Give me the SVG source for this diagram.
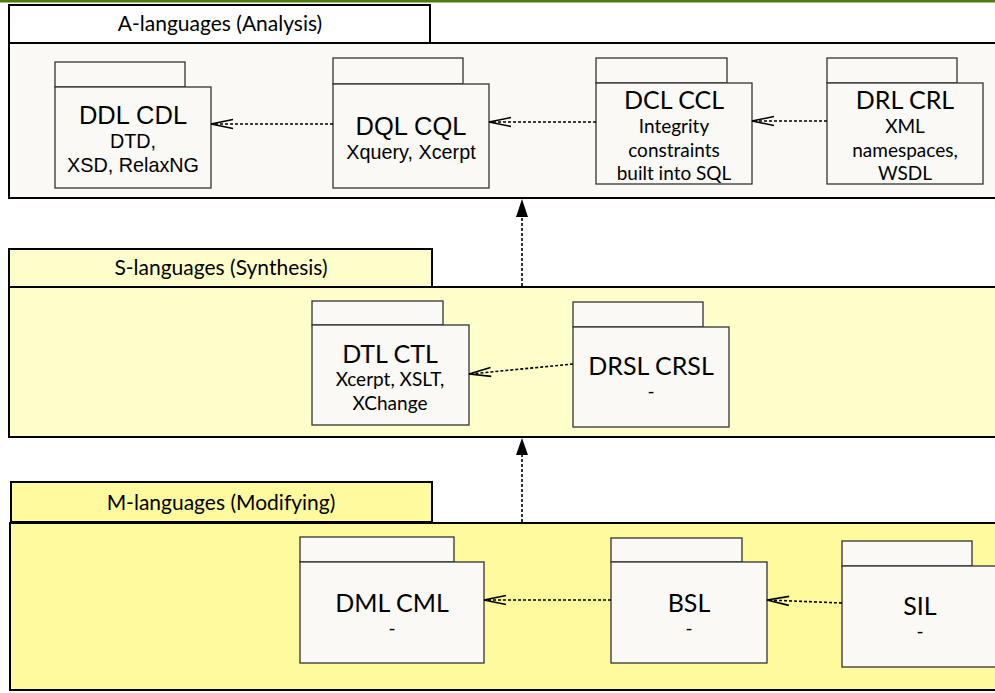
<svg xmlns="http://www.w3.org/2000/svg" width="995" height="693" viewBox="0 0 995 693">
<defs>
<style>
.pk{stroke:#000;stroke-width:2}
.a{fill:#faf9f5}
.at{fill:#ffffff}
.s{fill:#ffffcc}
.m{fill:#fffa9e}
.nd{fill:#faf9f5;stroke:#333;stroke-width:1.3}
.pt{font-family:Lato,"Liberation Sans",sans-serif;font-size:21px;fill:#000;text-anchor:middle}
.ta{font-family:"Liberation Sans",Arial,sans-serif;font-size:25.5px;fill:#000;text-anchor:middle}
.sa{font-family:"Liberation Sans",Arial,sans-serif;font-size:19.8px;fill:#000;text-anchor:middle}
.tl{font-family:Lato,"Liberation Sans",sans-serif;font-size:25px;fill:#000;text-anchor:middle}
.sl{font-family:Lato,"Liberation Sans",sans-serif;font-size:19px;fill:#000;text-anchor:middle}
.dep{fill:none;stroke:#000;stroke-width:1.6;stroke-dasharray:3 2}
.oh{fill:none;stroke:#000;stroke-width:1.6}
.fh{fill:#000;stroke:none}
</style>
</defs>
<rect x="0" y="0" width="995" height="693" fill="#ffffff"/>
<rect x="0" y="0" width="995" height="2.5" fill="#4c7c0c"/>

<g id="pkg-A">
<rect class="pk at" x="9" y="5" width="421" height="38"/>
<rect class="pk a" x="9" y="43" width="1000" height="155"/>
<text class="pt" x="220" y="31">A-languages (Analysis)</text>
</g>
<g id="pkg-S">
<rect class="pk s" x="9" y="249" width="423" height="38"/>
<rect class="pk s" x="9" y="287" width="1000" height="150"/>
<text class="pt" x="221" y="275">S-languages (Synthesis)</text>
</g>
<g id="pkg-M">
<rect class="pk m" x="11" y="482" width="421" height="40"/>
<rect class="pk m" x="10" y="523" width="1000" height="167"/>
<text class="pt" x="221" y="510">M-languages (Modifying)</text>
</g>

<g id="n-ddl">
<rect class="nd" x="55" y="62" width="130" height="25"/>
<rect class="nd" x="55" y="87" width="156" height="101"/>
<text class="ta" x="133" y="124">DDL CDL</text>
<text class="sa" x="133" y="148">DTD,</text>
<text class="sa" x="133" y="172">XSD, RelaxNG</text>
</g>
<g id="n-dql">
<rect class="nd" x="333" y="58" width="130" height="26"/>
<rect class="nd" x="333" y="84" width="156" height="104"/>
<text class="ta" x="411" y="135">DQL CQL</text>
<text class="sa" x="411" y="159">Xquery, Xcerpt</text>
</g>
<g id="n-dcl">
<rect class="nd" x="596" y="58" width="131" height="25"/>
<rect class="nd" x="596" y="83" width="156" height="101"/>
<text class="tl" x="674" y="109">DCL CCL</text>
<text class="sl" x="674" y="133">Integrity</text>
<text class="sl" x="674" y="157">constraints</text>
<text class="sl" x="674" y="180">built into SQL</text>
</g>
<g id="n-drl">
<rect class="nd" x="827" y="58" width="130" height="25"/>
<rect class="nd" x="827" y="83" width="156" height="101"/>
<text class="tl" x="905" y="109">DRL CRL</text>
<text class="sl" x="905" y="133">XML</text>
<text class="sl" x="905" y="157">namespaces,</text>
<text class="sl" x="905" y="180">WSDL</text>
</g>
<g id="n-dtl">
<rect class="nd" x="312" y="301" width="131" height="24"/>
<rect class="nd" x="312" y="325" width="157" height="100"/>
<text class="tl" x="390" y="363">DTL CTL</text>
<text class="sl" x="390" y="386">Xcerpt, XSLT,</text>
<text class="sl" x="390" y="410">XChange</text>
</g>
<g id="n-drsl">
<rect class="nd" x="573" y="302" width="130" height="25"/>
<rect class="nd" x="573" y="327" width="156" height="100"/>
<text class="tl" x="651" y="375">DRSL CRSL</text>
<text class="sl" x="651" y="398">-</text>
</g>
<g id="n-dml">
<rect class="nd" x="300" y="537" width="154" height="25"/>
<rect class="nd" x="300" y="562" width="184" height="101"/>
<text class="tl" x="392" y="612">DML CML</text>
<text class="sl" x="392" y="635">-</text>
</g>
<g id="n-bsl">
<rect class="nd" x="611" y="538" width="131" height="24"/>
<rect class="nd" x="611" y="562" width="156" height="101"/>
<text class="tl" x="689" y="612">BSL</text>
<text class="sl" x="689" y="635">-</text>
</g>
<g id="n-sil">
<rect class="nd" x="842" y="541" width="130" height="25"/>
<rect class="nd" x="842" y="566" width="156" height="101"/>
<text class="tl" x="920" y="615">SIL</text>
<text class="sl" x="920" y="638">-</text>
</g>

<g id="connectors">
<line class="dep" x1="333" y1="124" x2="212" y2="124"/>
<path class="oh" d="M233,119.5 L211,124 L233,128.5"/>
<line class="dep" x1="596" y1="122" x2="490" y2="122"/>
<path class="oh" d="M511,117.5 L489,122 L511,126.5"/>
<line class="dep" x1="827" y1="121" x2="753" y2="121"/>
<path class="oh" d="M774,116.5 L752,121 L774,125.5"/>
<line class="dep" x1="573" y1="364" x2="470" y2="374"/>
<path class="oh" d="M490.5,367.4 L469,374 L491.3,376.4"/>
<line class="dep" x1="611" y1="600" x2="485" y2="600"/>
<path class="oh" d="M506,595.5 L484,600 L506,604.5"/>
<line class="dep" x1="842" y1="603" x2="768" y2="600"/>
<path class="oh" d="M789.2,596.4 L767,600 L788.8,605.4"/>
<line class="dep" x1="522" y1="286" x2="522" y2="216"/>
<path class="fh" d="M522,199 L528,217 L516,217 Z"/>
<line class="dep" x1="522" y1="522" x2="522" y2="454"/>
<path class="fh" d="M522,438 L528,455 L516,455 Z"/>
</g>
</svg>
